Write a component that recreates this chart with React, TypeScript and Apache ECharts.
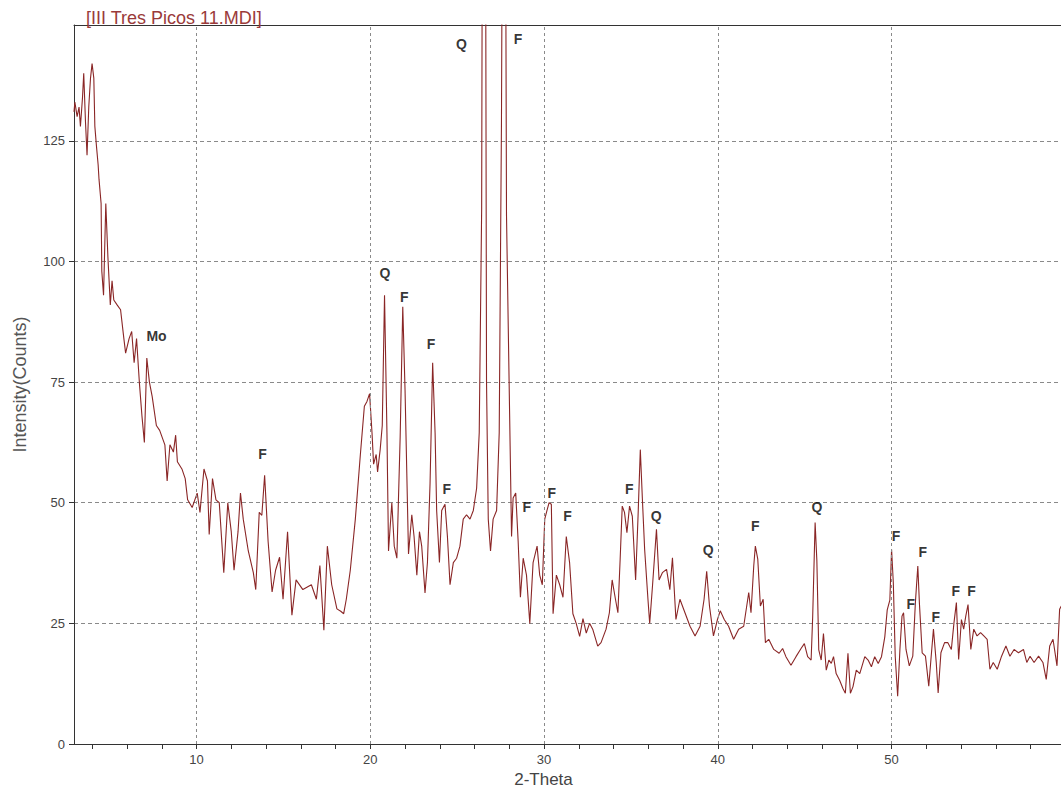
import React, { useEffect, useRef } from "react";
import * as echarts from "echarts";

const titleText = "[III Tres Picos 11.MDI]";
const xAxisName = "2-Theta";
const yAxisName = "Intensity(Counts)";

const xMin = 2.95;
const xMax = 59.75;
const yMin = 0;
const yMax = 149;

const xTickValues = [4, 6, 8, 10, 12, 14, 16, 18, 20, 22, 24, 26, 28, 30, 32, 34, 36, 38, 40, 42, 44, 46, 48, 50, 52, 54, 56, 58];
const xLabelValues = [10, 20, 30, 40, 50];
const yLabelValues = [0, 25, 50, 75, 100, 125];

// 2-theta (degrees), intensity (counts)
const pattern: [number, number][] = [
  [2.95, 131], [3.0, 133], [3.13, 130], [3.24, 132], [3.32, 128], [3.44, 134], [3.51, 139], [3.61, 129], [3.7, 122],
  [3.8, 132], [3.9, 138], [3.99, 141], [4.09, 138], [4.15, 128], [4.24, 124], [4.34, 120], [4.39, 117],
  [4.51, 112], [4.55, 98], [4.65, 93], [4.78, 112], [4.9, 101], [5.04, 91], [5.14, 96], [5.24, 92], [5.43, 91],
  [5.63, 90], [5.82, 84], [5.92, 81], [6.12, 84], [6.27, 85.5], [6.41, 79], [6.55, 84], [6.71, 75], [6.86, 68],
  [7.0, 62.5], [7.14, 80], [7.29, 75], [7.45, 72], [7.69, 66], [7.88, 65], [8.18, 62], [8.31, 54.5], [8.47, 62],
  [8.67, 60.5], [8.8, 64], [8.9, 58.5], [9.16, 57], [9.35, 55], [9.49, 50.6], [9.75, 49], [10.04, 52], [10.2, 48],
  [10.43, 57], [10.63, 54.5], [10.73, 43.4], [10.92, 55], [11.12, 50.6], [11.31, 50], [11.57, 35.5], [11.8, 50],
  [12.0, 44], [12.16, 36], [12.39, 44], [12.53, 52], [12.69, 46.6], [12.98, 40], [13.27, 35.5], [13.41, 32],
  [13.61, 48], [13.76, 47.4], [13.92, 55.7], [14.12, 42], [14.35, 31.5], [14.55, 36], [14.78, 38.7], [14.98, 30],
  [15.24, 44], [15.49, 26.7], [15.73, 34], [16.12, 32], [16.61, 33], [16.9, 30], [17.1, 37], [17.33, 23.6],
  [17.53, 41], [17.78, 33], [18.08, 28], [18.3, 27.5], [18.47, 27], [18.62, 30], [18.85, 36], [19.14, 46.6],
  [19.43, 60], [19.66, 70], [19.81, 71], [19.96, 72.6], [20.1, 64.5], [20.19, 58], [20.34, 60], [20.42, 56.4],
  [20.57, 61], [20.69, 66], [20.82, 93], [20.96, 64.5], [21.05, 40], [21.24, 50], [21.38, 41], [21.53, 38.5],
  [21.72, 63.6], [21.87, 90.6], [22.0, 73.5], [22.2, 39.4], [22.39, 47.5], [22.52, 43], [22.68, 35], [22.83, 44],
  [22.96, 41], [23.15, 31.3], [23.29, 37.6], [23.44, 54], [23.59, 79], [23.73, 64.5], [23.82, 48.4], [23.98, 37.6],
  [24.11, 48.4], [24.3, 49.7], [24.44, 43], [24.59, 33], [24.78, 37.6], [24.97, 38.5], [25.16, 41], [25.35, 46.6],
  [25.54, 47.5], [25.74, 46.6], [25.93, 48.4], [26.12, 53], [26.27, 64.5], [26.41, 111], [26.52, 290], [26.62, 200],
  [26.69, 75], [26.79, 46.6], [26.92, 40], [27.07, 46.6], [27.27, 48.4], [27.42, 64.5], [27.55, 129], [27.68, 250],
  [27.78, 180], [27.84, 109.5], [27.99, 75], [28.13, 43], [28.22, 51], [28.37, 52], [28.51, 42], [28.64, 30.4],
  [28.8, 38.5], [28.99, 35], [29.18, 25], [29.37, 37.6], [29.6, 41], [29.75, 35], [29.9, 33], [30.04, 46.6],
  [30.17, 48.4], [30.29, 50], [30.42, 49.7], [30.52, 27], [30.71, 35], [30.9, 33], [31.09, 30.4], [31.28, 43],
  [31.47, 37.6], [31.66, 27], [31.85, 25], [32.05, 22.3], [32.24, 26], [32.43, 23], [32.62, 25], [32.8, 23.8],
  [33.09, 20.3], [33.28, 21], [33.57, 23.8], [33.76, 27.2], [33.92, 34], [34.11, 30], [34.25, 27.2], [34.38, 38.3],
  [34.5, 49.3], [34.63, 48], [34.77, 43.8], [34.92, 49.3], [35.08, 47.2], [35.27, 34], [35.41, 47.2], [35.54, 61],
  [35.66, 50.7], [35.79, 40.3], [35.98, 30], [36.08, 25], [36.24, 32.7], [36.47, 44.5], [36.62, 34], [36.81, 35.5],
  [37.05, 36.2], [37.24, 32], [37.39, 38.6], [37.59, 25.8], [37.82, 30], [38.11, 27.2], [38.4, 24.4], [38.69, 22.4],
  [38.98, 24.4], [39.21, 30], [39.36, 35.8], [39.52, 28.6], [39.75, 22.4], [39.98, 25.8], [40.14, 27.6], [40.37, 25.8],
  [40.62, 24.4], [40.91, 21.7], [41.2, 23.8], [41.49, 24.4], [41.78, 31.4], [41.91, 27.2], [42.07, 37], [42.16, 41],
  [42.3, 38.3], [42.45, 28.6], [42.61, 30], [42.74, 21], [42.93, 21.7], [43.22, 19.6], [43.53, 18.8], [43.73, 19.8],
  [43.92, 18.1], [44.21, 16.3], [44.5, 18.1], [44.79, 19.8], [44.98, 20.8], [45.17, 18.1], [45.37, 17.4], [45.46, 26.4],
  [45.6, 45.9], [45.7, 38], [45.81, 19.5], [45.95, 17.4], [46.08, 22.9], [46.24, 15.3], [46.39, 17.4], [46.53, 16.7],
  [46.66, 18.1], [46.81, 14.6], [47.01, 13.2], [47.2, 11.5], [47.34, 10.5], [47.49, 18.8], [47.63, 10.5], [47.78, 11.9],
  [47.97, 15.3], [48.17, 14.6], [48.46, 18.1], [48.65, 17.4], [48.84, 16], [49.03, 18.1], [49.23, 16.7], [49.42, 18.1],
  [49.61, 22.2], [49.75, 27.8], [49.9, 29.8], [50.0, 40.3], [50.1, 33.4], [50.21, 18.2], [50.35, 9.9], [50.48, 19.6],
  [50.6, 26.5], [50.69, 27.2], [50.83, 19.6], [51.02, 16.2], [51.22, 18.2], [51.37, 29.3], [51.51, 36.9], [51.6, 29.3],
  [51.76, 18.9], [51.95, 18.2], [52.14, 12], [52.28, 18.2], [52.41, 23.8], [52.57, 16.9], [52.68, 10.6], [52.84, 18.9],
  [53.05, 21], [53.24, 21], [53.44, 19.6], [53.59, 25.1], [53.73, 29.3], [53.86, 17.5], [54.02, 25.8], [54.15, 23.8],
  [54.27, 26.5], [54.4, 28.9], [54.56, 19.6], [54.73, 23.8], [54.92, 22.4], [55.12, 23.1], [55.31, 22.4], [55.5, 21.7],
  [55.66, 15.5], [55.85, 16.9], [56.08, 15.5], [56.33, 18.2], [56.58, 20.3], [56.81, 18.2], [57.05, 19.6], [57.3, 18.9],
  [57.59, 19.6], [57.78, 16.9], [57.97, 18.2], [58.2, 16.9], [58.46, 18.2], [58.71, 16.9], [58.9, 13.4], [59.1, 20.3],
  [59.29, 21.7], [59.52, 16.2], [59.67, 27.9], [59.77, 28.6],
];

// peak annotations: label, 2-theta, intensity position of the label
const peakLabels = ["Q", "F", "Mo", "F", "Q", "F", "F", "F", "F", "F", "F", "F", "Q", "Q", "F", "Q", "F", "F", "F", "F", "F", "F"];
const peakX = [25.25, 28.5, 7.7, 13.8, 20.85, 21.95, 23.5, 24.4, 29.0, 30.45, 31.35, 34.9, 36.45, 39.45, 42.15, 45.7, 50.25, 51.8, 51.1, 52.55, 53.7, 54.6];
const peakY = [145, 146, 84.5, 60, 97.6, 92.6, 82.8, 52.9, 49.2, 52.1, 47.3, 52.9, 47.3, 40.1, 45.1, 49.2, 43.2, 39.7, 29.1, 26.4, 31.8, 31.8];

const gridLinesX = [10, 20, 30, 40, 50];

export default function App() {
  const ref = useRef<HTMLDivElement>(null);
  useEffect(() => {
    if (!ref.current) return;
    const chart = echarts.init(ref.current, null, { renderer: "svg" });
    const font = "'Liberation Sans', Arial, sans-serif";
    chart.setOption({
      animation: false,
      backgroundColor: "#ffffff",
      title: {
        text: titleText,
        left: 81,
        top: 4,
        textStyle: { color: "#9a3a3a", fontSize: 18, fontWeight: "normal", fontFamily: font },
      },
      grid: { left: 74, right: 0, top: 25, bottom: 56, containLabel: false },
      xAxis: [
        {
          type: "value",
          min: xMin,
          max: xMax,
          name: xAxisName,
          nameLocation: "middle",
          nameGap: 22,
          nameTextStyle: { color: "#444", fontSize: 17, fontFamily: font, padding: [0, 48, 0, 0] },
          axisLine: { show: true, lineStyle: { color: "#333", width: 1 } },
          axisTick: { show: true, length: 5, lineStyle: { color: "#333" }, customValues: xTickValues },
          axisLabel: { color: "#444", fontSize: 13, fontFamily: font, margin: 9, customValues: xLabelValues },
          splitLine: { show: false },
        },
        {
          type: "value",
          position: "top",
          min: xMin,
          max: xMax,
          axisLine: { show: true, lineStyle: { color: "#333", width: 1 } },
          axisTick: { show: false },
          axisLabel: { show: false },
          splitLine: { show: false },
        },
      ],
      yAxis: {
        type: "value",
        min: yMin,
        max: yMax,
        interval: 25,
        name: yAxisName,
        nameLocation: "middle",
        nameRotate: 90,
        nameGap: 45,
        nameTextStyle: { color: "#555", fontSize: 18, fontFamily: font },
        axisLine: { show: true, lineStyle: { color: "#333", width: 1 } },
        axisTick: { show: true, length: 5, lineStyle: { color: "#333" }, customValues: yLabelValues },
        axisLabel: {
          color: "#444",
          fontSize: 13,
          fontFamily: font,
          margin: 9,
          customValues: yLabelValues,
        },
        splitLine: { show: true, lineStyle: { color: "#8a8a8a", type: [4, 3], width: 1 } },
      },
      series: [
        {
          type: "line",
          data: [],
          z: 1,
          silent: true,
          markLine: {
            silent: true,
            symbol: ["none", "none"],
            label: { show: false },
            lineStyle: { color: "#8a8a8a", type: [3, 3], width: 1 },
            data: gridLinesX.map((v) => ({ xAxis: v })),
          },
        },
        {
          type: "line",
          data: pattern,
          z: 3,
          showSymbol: false,
          symbol: "none",
          clip: true,
          lineStyle: { color: "#8a2626", width: 1.1 },
        },
        {
          type: "scatter",
          z: 4,
          symbolSize: 1,
          silent: true,
          itemStyle: { color: "rgba(0,0,0,0)" },
          data: peakLabels.map((t, i) => ({ name: t, value: [peakX[i], peakY[i]] })),
          label: {
            show: true,
            position: "inside",
            formatter: (p: any) => p.name,
            color: "#000",
            fontWeight: "bold",
            fontSize: 14,
            fontFamily: font,
          },
        },
      ],
    });
    return () => chart.dispose();
  }, []);
  return (
    <div
      ref={ref}
      style={{ position: "fixed", left: 0, top: 0, width: 1061, height: 800, background: "#fff" }}
    />
  );
}
